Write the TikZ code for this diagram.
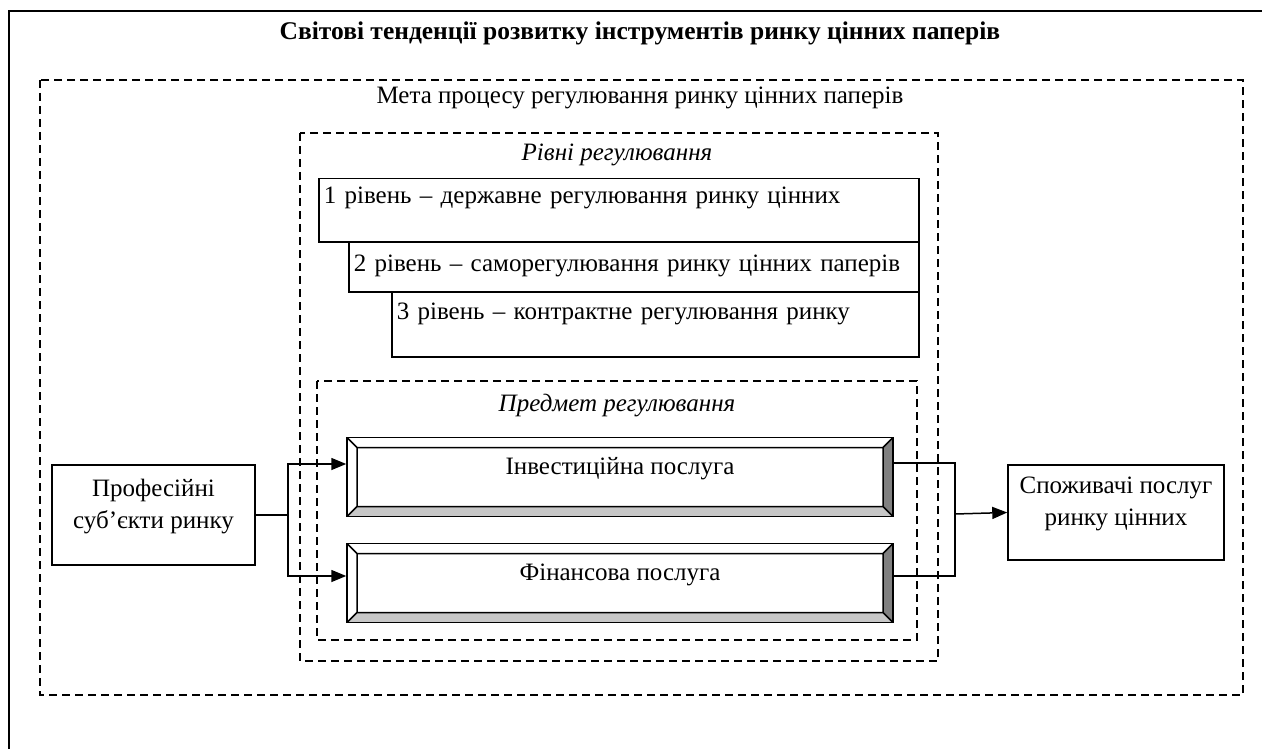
\documentclass[tikz,border=0pt]{standalone}
\usepackage{fontspec}
\setmainfont{Liberation Serif}
\usetikzlibrary{arrows.meta}
\definecolor{beveldark}{gray}{0.5}
\definecolor{bevellight}{gray}{0.78}

\begin{document}
\begin{tikzpicture}[x=1pt, y=-1pt,
    every node/.style={font=\fontsize{25}{32}\selectfont},
    frame/.style={line width=1.8pt, dash pattern=on 8pt off 5pt},
    levelbox/.style={draw, fill=white, line width=1.5pt, anchor=north west,
                     inner xsep=5pt, inner ysep=0pt, align=left},
    sidebox/.style={draw, line width=1.5pt, align=center, inner sep=0pt,
                    text height=48pt, text depth=22pt},
    bevelbox/.style={draw, line width=1.5pt, minimum width=546pt, minimum height=79pt,
                     inner sep=0pt, text depth=22pt,
      path picture={
        \path (path picture bounding box.north east) coordinate (bNE)
              (path picture bounding box.south east) coordinate (bSE)
              (path picture bounding box.south west) coordinate (bSW)
              (path picture bounding box.north west) coordinate (bNW);
        \path ([shift={(-10pt,-10pt)}]bNE) coordinate (iNE)
              ([shift={(-10pt,10pt)}]bSE) coordinate (iSE)
              ([shift={(10pt,10pt)}]bSW) coordinate (iSW)
              ([shift={(10pt,-10pt)}]bNW) coordinate (iNW);
        \fill[beveldark] (bNE) -- (iNE) -- (iSE) -- (bSE) -- cycle;
        \fill[bevellight] (bSW) -- (iSW) -- (iSE) -- (bSE) -- cycle;
        \draw[line width=1.5pt] (iNW) rectangle (iSE)
          (bNE) -- (iNE) (bSE) -- (iSE) (bSW) -- (iSW) (bNW) -- (iNW);
      }},
    link/.style={line width=1.5pt},
    arrow/.style={link, -{Triangle[length=15pt, width=12pt]}}]
  \useasboundingbox (0,0) rectangle (1262,749);

  % frames
  \draw[line width=2.5pt] (1262,11) -| (9,749);
  \draw[frame] (40,80) rectangle (1243,695);
  \draw[frame] (300,133) rectangle (938,661);
  \draw[frame] (317,381) rectangle (917,640);

  \node[font=\fontsize{25.5}{32}\selectfont\bfseries] (title) at (640,33)
    {Світові тенденції розвитку інструментів ринку цінних паперів};
  \node (goal) at (640,98) {Мета процесу регулювання ринку цінних паперів};
  \node (levels) at (617,155) {\itshape Рівні регулювання};
  \node (subject) at (617,406) {\itshape Предмет регулювання};

  % levels
  \node[levelbox, text width=590pt, text height=25pt, text depth=38pt] (lvlone) at (318,178)
    {1 рівень – державне регулювання ринку цінних};
  \node[levelbox, text width=560pt, text height=30pt, text depth=20pt] (lvltwo) at (348,241)
    {2 рівень – саморегулювання ринку цінних паперів};
  \node[levelbox, text width=517pt, text height=28pt, text depth=37pt] (lvlthree) at (391,291)
    {3 рівень – контрактне регулювання ринку};

  % services
  \node[bevelbox] (invest) at (620,477) {Інвестиційна послуга};
  \node[bevelbox] (fin) at (620,583) {Фінансова послуга};

  \node[sidebox, minimum width=203pt, minimum height=100pt] (prof) at (153.5,515)
    {Професійні\\суб’єкти ринку};
  \node[sidebox, minimum width=216pt, minimum height=95pt] (cons) at (1116,512.5)
    {Споживачі послуг\\ринку цінних};

  \coordinate (split) at (288,515);
  \coordinate (join) at (955,514);
  \draw[link] (prof.east) -- (split);
  \draw[arrow] (split) |- ([yshift=13pt]invest.west);
  \draw[arrow] (split) |- ([yshift=7pt]fin.west);
  \draw[link] ([yshift=14pt]invest.east) -| (join) |- ([yshift=7pt]fin.east);
  \draw[arrow] (join) -- (cons.west);
\end{tikzpicture}
\end{document}
